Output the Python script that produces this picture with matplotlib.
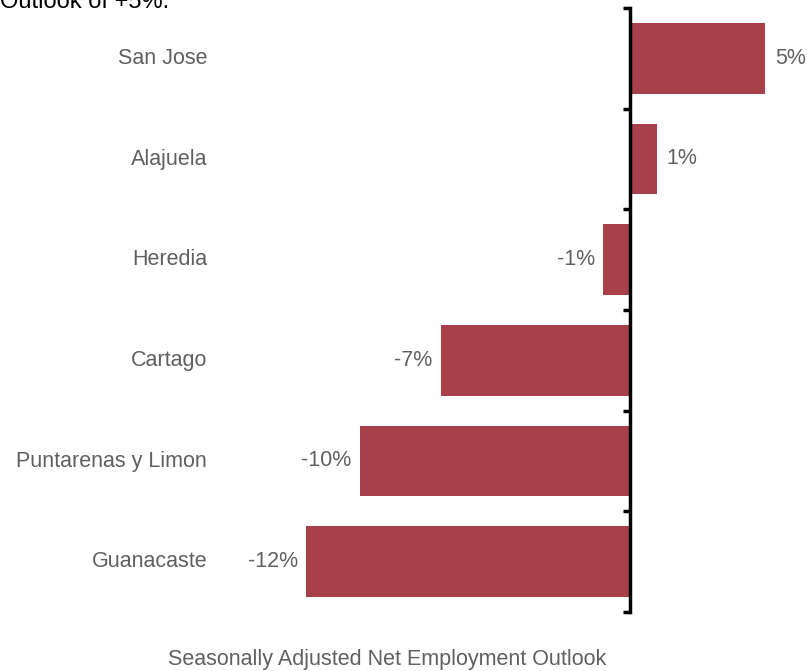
import numpy as np
import matplotlib as mpl
mpl.use('Agg')
import matplotlib.pyplot as plt

plt.rcParams['font.family'] = ['Liberation Sans', 'DejaVu Sans']

regions = ['San Jose', 'Alajuela', 'Heredia', 'Cartago',
           'Puntarenas y Limon', 'Guanacaste']
outlook = [5, 1, -1, -7, -10, -12]

bar_color = '#a8404a'
text_color = '#606060'


def main():
    fig = plt.figure(figsize=(8.07, 6.71), dpi=100)
    # axes placed so that zero sits at x=630px, ~27px per point
    ax = fig.add_axes([215 / 807, 1 - 612 / 671, 585 / 807, 604 / 671])

    y = np.arange(len(regions))
    ax.barh(y, outlook, height=0.7, color=bar_color)

    ax.set_xlim(-(630 - 215) / 27.0, (800 - 630) / 27.0)
    ax.set_ylim(len(regions) - 0.5, -0.5)

    for yi, v in zip(y, outlook):
        if v >= 0:
            ax.annotate('%d%%' % v, (v, yi), xytext=(7, 0),
                        textcoords='offset points', ha='left', va='center',
                        fontsize=15.5, color=text_color)
        else:
            ax.annotate('%d%%' % v, (v, yi), xytext=(-6, 0),
                        textcoords='offset points', ha='right', va='center',
                        fontsize=15.5, color=text_color)

    for s in ['top', 'right', 'bottom']:
        ax.spines[s].set_visible(False)
    ax.spines['left'].set_position(('data', 0))
    ax.spines['left'].set_linewidth(2.5)
    ax.spines['left'].set_color('black')

    ax.set_xticks([])
    ax.set_yticks(y)
    ax.set_yticklabels([])
    ax.set_yticks(np.arange(-0.5, len(regions), 1.0), minor=True)
    ax.tick_params(axis='y', which='major', length=0)
    ax.tick_params(axis='y', which='minor', length=5, width=2.5,
                   direction='out', color='black')

    # category labels, right aligned at the left of the plotting area
    for yi, name in zip(y, regions):
        ax.text(-(630 - 207) / 27.0, yi, name, ha='right', va='center',
                fontsize=15.5, color=text_color, clip_on=False)

    fig.text(387 / 807, 1 - 659 / 671, 'Seasonally Adjusted Net Employment Outlook',
             ha='center', va='center', fontsize=15.5, color=text_color)
    fig.text(0.0, 1 - 8 / 671, 'Outlook of +5%.', ha='left', va='baseline',
             fontsize=17, color='black')

    fig.savefig('out.png', dpi=100)


if __name__ == '__main__':
    main()
